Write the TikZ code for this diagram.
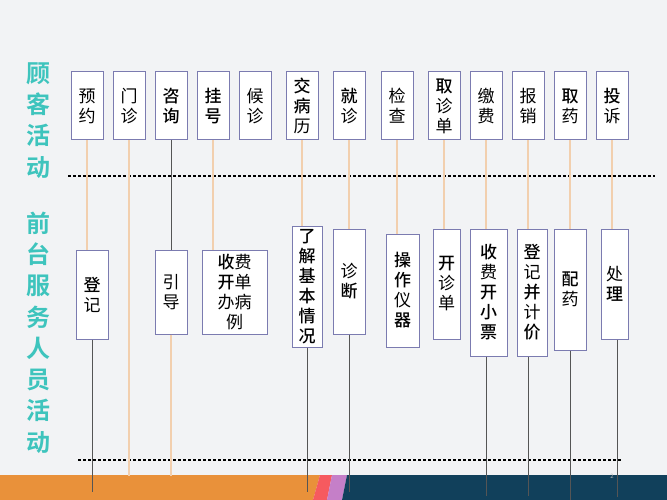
\documentclass[tikz,border=0pt]{standalone}
\usepackage{fontspec}
\setmainfont{Noto Sans CJK SC}[BoldFont={Noto Sans CJK SC Medium}]
\newfontfamily\sidefont{Noto Sans CJK SC Bold}
\usepackage{tikz}
\definecolor{bgcol}{HTML}{F2F3F5}
\definecolor{boxline}{HTML}{7B7BB0}
\definecolor{peach}{HTML}{F2CFAE}
\definecolor{greyline}{HTML}{555555}
\definecolor{tealtext}{HTML}{3EC4BD}
\definecolor{bandorange}{HTML}{E9913A}
\definecolor{bandred}{HTML}{F65A5F}
\definecolor{bandpurple}{HTML}{C57FC8}
\definecolor{bandnavy}{HTML}{11405B}
\newcommand\bz[1]{{\bfseries #1}}

\begin{document}
\begin{tikzpicture}[x=1pt,y=-1pt,
    box/.style={shape=rectangle,draw=boxline,fill=white,line width=1pt,inner sep=0pt,
      align=center,font=\fontsize{17pt}{20pt}\selectfont},
    topbox/.style={box,minimum width=32,minimum height=68},
    side/.style={align=center,text=tealtext,font=\fontsize{24pt}{31.3pt}\sidefont},
    pline/.style={draw=peach,line width=1.4pt},
    gline/.style={draw=greyline,line width=0.9pt}]
  \useasboundingbox (0,0) rectangle (667,500);
  \fill[bgcol] (0,0) rectangle (667,500);
  % bottom band
  \fill[bandorange] (0,475) -- (320,475) -- (313,500) -- (0,500) -- cycle;
  \fill[bandred] (320,475) -- (332,475) -- (327,500) -- (313,500) -- cycle;
  \fill[bandpurple] (332,475) -- (347,475) -- (342,500) -- (327,500) -- cycle;
  \fill[bandnavy] (347,475) -- (667,475) -- (667,500) -- (342,500) -- cycle;
  \node[text=gray!60,font=\fontsize{6pt}{6pt}\selectfont] (pg) at (612,476) {2};

  % side labels
  \node[side] (L1) at (39,120.5) {顾\\客\\活\\动};
  \node[side] (L2) at (39,332.5) {前\\台\\服\\务\\人\\员\\活\\动};

  % dashed separators
  \coordinate (d1) at (68,176);
  \coordinate (d2) at (655,176);
  \coordinate (d3) at (78,460);
  \coordinate (d4) at (622,460);
  \draw[black,line width=1.3pt,dash pattern=on 3pt off 2pt] (d1) -- (d2);
  \draw[black,line width=1.3pt,dash pattern=on 3pt off 2pt] (d3) -- (d4);

  % customer activities
  \node[topbox] (t1)  at (87,106)  {预\\约};
  \node[topbox] (t2)  at (129,106) {门\\诊};
  \node[topbox] (t3)  at (171,106) {\bz{咨}\\\bz{询}};
  \node[topbox] (t4)  at (213,106) {\bz{挂}\\\bz{号}};
  \node[topbox] (t5)  at (255,106) {候\\诊};
  \node[topbox] (t6)  at (302,106) {\bz{交}\\\bz{病}\\历};
  \node[topbox] (t7)  at (349,106) {\bz{就}\\诊};
  \node[topbox] (t8)  at (397,106) {检\\查};
  \node[topbox] (t9)  at (444,106) {\bz{取}\\诊\\单};
  \node[topbox] (t10) at (486,106) {缴\\费};
  \node[topbox] (t11) at (528,106) {报\\销};
  \node[topbox] (t12) at (570,106) {\bz{取}\\药};
  \node[topbox] (t13) at (612,106) {\bz{投}\\诉};

  % front desk activities
  \node[box,minimum width=32,minimum height=89]  (b1)  at (92,294.5)  {\bz{登}\\记};
  \node[box,minimum width=32,minimum height=84]  (b3)  at (171,292)   {引\\导};
  \node[box,minimum width=65,minimum height=84]  (b4)  at (234.5,292) {\bz{收}费\\\bz{开}单\\办病\\例};
  \node[box,minimum width=30,minimum height=121] (b6)  at (307,286.5) {\bz{了}\\\bz{解}\\\bz{基}\\\bz{本}\\\bz{情}\\\bz{况}};
  \node[box,minimum width=32,minimum height=105] (b7)  at (349,281.5) {诊\\\bz{断}};
  \node[box,minimum width=33,minimum height=113] (b8)  at (402.5,290.5) {\bz{操}\\\bz{作}\\仪\\\bz{器}};
  \node[box,minimum width=27,minimum height=110] (b9)  at (446.5,284) {\bz{开}\\诊\\单};
  \node[box,minimum width=37,minimum height=127] (b10) at (488.5,292.5) {\bz{收}\\费\\\bz{开}\\\bz{小}\\\bz{票}};
  \node[box,minimum width=30,minimum height=127] (b11) at (532,292.5) {\bz{登}\\记\\\bz{并}\\计\\\bz{价}};
  \node[box,minimum width=32,minimum height=121] (b12) at (570,289.5) {\bz{配}\\药};
  \node[box,minimum width=27,minimum height=110] (b13) at (614.5,284) {处\\\bz{理}};

  % free line ends
  \coordinate (e1)  at (92,492);
  \coordinate (e2)  at (129,476);
  \coordinate (e3)  at (171,476);
  \coordinate (e6)  at (307,492);
  \coordinate (e7)  at (349,492);
  \coordinate (e10) at (486,496);
  \coordinate (e11) at (528,496);
  \coordinate (e12) at (570,500);
  \coordinate (e13) at (617,497);

  \path[pline]
  (t1.south) -- (t1.south |- b1.north)
  (t2.south) -- (e2)
  (b3.south) -- (e3)
  (t4.south) -- (t4.south |- b4.north)
  (t6.south) -- (t6.south |- b6.north)
  (t7.south) -- (t7.south |- b7.north)
  (t8.south) -- (t8.south |- b8.north)
  (t9.south) -- (t9.south |- b9.north)
  (t10.south) -- (t10.south |- b10.north)
  (t11.south) -- (t11.south |- b11.north)
  (t12.south) -- (t12.south |- b12.north)
  (t13.south) -- (t13.south |- b13.north);
  \path[gline]
  (t3.south) -- (b3.north)
  (b1.south) -- (e1)
  (b6.south) -- (e6)
  (b7.south) -- (e7)
  (b10.south -| e10) -- (e10)
  (b11.south -| e11) -- (e11)
  (b12.south) -- (e12)
  (b13.south -| e13) -- (e13);
\end{tikzpicture}
\end{document}
